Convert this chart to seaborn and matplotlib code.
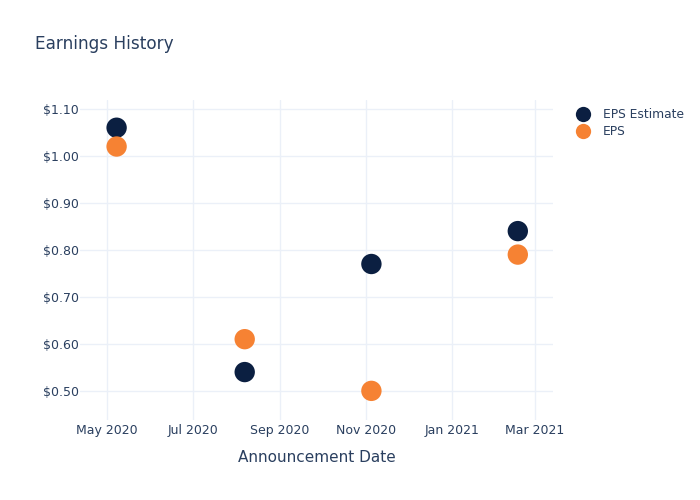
import matplotlib
matplotlib.use("Agg")
import matplotlib.pyplot as plt
import matplotlib.dates as mdates
from matplotlib.ticker import FuncFormatter
import seaborn as sns
import pandas as pd

dates = ["2020-05-08", "2020-08-07", "2020-11-05", "2021-02-17"]
eps_estimate = [1.06, 0.54, 0.77, 0.84]
eps_actual = [1.02, 0.61, 0.50, 0.79]
series_names = ["EPS Estimate", "EPS"]
colors = ["#0b1f41", "#f68233"]

df = pd.DataFrame({
    "date": pd.to_datetime(dates * 2),
    "value": eps_estimate + eps_actual,
    "series": [series_names[0]] * 4 + [series_names[1]] * 4,
})

sns.set_style("white")
plt.rcParams["font.family"] = ["DejaVu Sans"]
text_color = "#2a3f5f"

fig = plt.figure(figsize=(7, 5), dpi=100)
ax = fig.add_axes([80 / 700, 80 / 500, (553 - 80) / 700, 320 / 500])

sns.scatterplot(data=df, x="date", y="value", hue="series", hue_order=series_names,
                palette=colors, s=215, edgecolor="none", ax=ax, zorder=3)

ax.set_xlim(pd.Timestamp("2020-04-12"), pd.Timestamp("2021-03-14"))
ax.set_ylim(0.438, 1.119)
ax.set_yticks([0.5, 0.6, 0.7, 0.8, 0.9, 1.0, 1.1])
ax.yaxis.set_major_formatter(FuncFormatter(lambda v, p: f"${v:.2f}"))
ax.xaxis.set_major_locator(mdates.MonthLocator(bymonth=[1, 3, 5, 7, 9, 11]))
ax.xaxis.set_major_formatter(mdates.DateFormatter("%b %Y"))

ax.grid(True, color="#ebf0f8", linewidth=1)
ax.set_axisbelow(True)
for s in ax.spines.values():
    s.set_visible(False)
ax.tick_params(axis="x", length=0, labelsize=9, colors=text_color, pad=3)
ax.tick_params(axis="y", length=0, labelsize=9, colors=text_color, pad=1)
ax.set_xlabel("Announcement Date", fontsize=11, color=text_color, labelpad=9)
ax.set_ylabel("")

fig.text(35 / 700, 1 - 44 / 500, "Earnings History", fontsize=12.2, color=text_color, va="center")

leg = ax.legend(loc="upper left", bbox_to_anchor=(1.015, 1.01), frameon=False,
                fontsize=8.8, labelcolor=text_color, handletextpad=0.6,
                labelspacing=0.35, markerscale=1.0)
for h in leg.legend_handles:
    h.set_markersize(11)

fig.savefig("out.png", dpi=100)
